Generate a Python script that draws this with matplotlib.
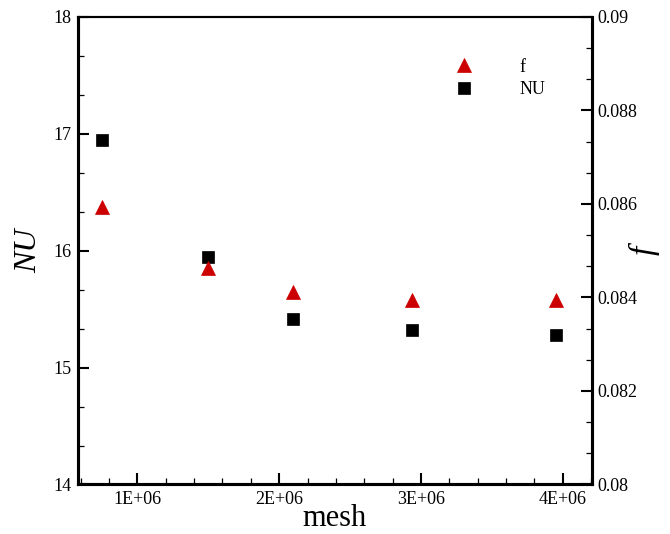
import numpy as np
import matplotlib
matplotlib.use('Agg')
import matplotlib.pyplot as plt
from matplotlib.ticker import MultipleLocator, FixedLocator, FixedFormatter

# 网格无关性验证数据
mesh = [0.75e6, 1.5e6, 2.1e6, 2.94e6, 3.95e6]
nu = [16.95, 15.95, 15.42, 15.32, 15.28]
f = [0.08594, 0.08464, 0.08412, 0.08394, 0.08394]

x_ticks = [1e6, 2e6, 3e6, 4e6]
x_ticklabels = ['1E+06', '2E+06', '3E+06', '4E+06']
nu_ticks = [14, 15, 16, 17, 18]
f_ticks = [0.08, 0.082, 0.084, 0.086, 0.088, 0.09]
f_ticklabels = ['0.08', '0.082', '0.084', '0.086', '0.088', '0.09']

plt.rcParams['font.family'] = ['Liberation Serif', 'DejaVu Serif']
plt.rcParams['font.size'] = 13

fig = plt.figure(figsize=(6.7, 5.34), dpi=100)
ax1 = fig.add_axes([0.1169, 0.0927, 0.7662, 0.8755])
ax2 = ax1.twinx()

l1, = ax1.plot(mesh, nu, 's', ms=9, color='black', mec='black', mew=0.5, label='NU')
l2, = ax2.plot(mesh, f, '^', ms=10.5, color='#cc0000', mec='#cc0000', mew=0.5, label='f')

# 坐标范围
ax1.set_xlim(0.583e6, 4.205e6)
ax1.set_ylim(14, 18)
ax2.set_ylim(0.08, 0.09)

# 刻度
ax1.xaxis.set_major_locator(FixedLocator(x_ticks))
ax1.xaxis.set_major_formatter(FixedFormatter(x_ticklabels))
ax1.xaxis.set_minor_locator(MultipleLocator(2e5))
ax1.yaxis.set_major_locator(FixedLocator(nu_ticks))
ax1.yaxis.set_minor_locator(MultipleLocator(1 / 3))
ax2.yaxis.set_major_locator(FixedLocator(f_ticks))
ax2.yaxis.set_major_formatter(FixedFormatter(f_ticklabels))
ax2.yaxis.set_minor_locator(MultipleLocator(0.002 / 3))

ax1.tick_params(axis='both', which='major', direction='in', length=8, width=1.5, labelsize=13, pad=5)
ax1.tick_params(axis='both', which='minor', direction='in', length=4.5, width=0.9)
ax1.tick_params(axis='x', top=False, which='both')
ax1.tick_params(axis='y', right=False, which='both')
ax2.tick_params(axis='y', which='major', direction='in', length=8, width=1.5, labelsize=13, pad=4)
ax2.tick_params(axis='y', which='minor', direction='in', length=4.5, width=0.9)

for ax in (ax1, ax2):
    for side in ('left', 'bottom', 'right'):
        ax.spines[side].set_linewidth(2.2)
    ax.spines['top'].set_linewidth(1.5)

# 坐标轴标题
ax1.set_xlabel('mesh', fontsize=22, labelpad=-3)
ax1.set_ylabel('NU', fontsize=23, fontstyle='italic')
ax1.yaxis.set_label_coords(-0.068, 0.5)
ax2.set_ylabel('f', fontsize=24, fontstyle='italic')
ax2.yaxis.set_label_coords(1.072, 0.5)

ax1.legend(handles=[l2, l1], loc='upper left', bbox_to_anchor=(0.716, 0.911),
           frameon=False, numpoints=1, handlelength=2, handletextpad=2.1,
           borderpad=0, borderaxespad=0, labelspacing=0.3, fontsize=13)

plt.savefig('out.png', dpi=100)
